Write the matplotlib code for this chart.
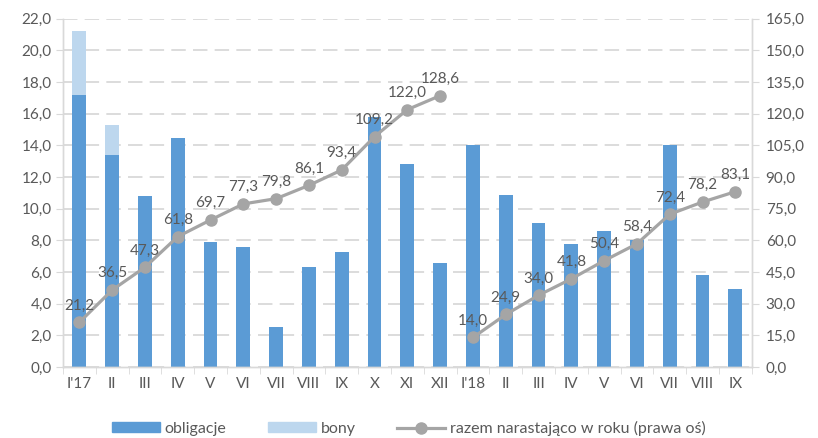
import matplotlib.pyplot as plt
import numpy as np
from matplotlib.lines import Line2D
from matplotlib.patches import Patch

plt.rcParams['font.family'] = ['Lato', 'DejaVu Sans']

months = ["I'17", "II", "III", "IV", "V", "VI", "VII", "VIII", "IX", "X", "XI", "XII",
          "I'18", "II", "III", "IV", "V", "VI", "VII", "VIII", "IX"]
obligacje = [17.2, 13.4, 10.8, 14.5, 7.9, 7.6, 2.5, 6.3, 7.3, 15.8, 12.8, 6.6,
             14.0, 10.9, 9.1, 7.8, 8.6, 8.0, 14.0, 5.8, 4.9]
bony = [4.0, 1.9, 0, 0, 0, 0, 0, 0, 0, 0, 0, 0,
        0, 0, 0, 0, 0, 0, 0, 0, 0]
razem_2017 = [21.2, 36.5, 47.3, 61.8, 69.7, 77.3, 79.8, 86.1, 93.4, 109.2, 122.0, 128.6]
razem_2018 = [14.0, 24.9, 34.0, 41.8, 50.4, 58.4, 72.4, 78.2, 83.1]

c_obl = '#5B9BD5'
c_bony = '#BDD7EE'
c_line = '#A5A5A5'
c_text = '#595959'
c_grid = '#D9D9D9'
fs = 11

def fmt(v):
    return ('%.1f' % v).replace('.', ',')

fig = plt.figure(figsize=(8.18, 4.38), dpi=100)
ax = fig.add_axes([0.077, 0.162, 0.842, 0.795])
ax2 = ax.twinx()

x = np.arange(len(months))
ax.bar(x, obligacje, width=0.42, color=c_obl, zorder=2)
ax.bar(x, bony, width=0.42, bottom=obligacje, color=c_bony, zorder=2)

ax.set_xlim(-0.5, len(months) - 0.5)
ax.set_ylim(0, 22)
ax.set_yticks(np.arange(0, 22.1, 2))
ax.set_yticklabels([fmt(v) for v in np.arange(0, 22.1, 2)])
ax.yaxis.grid(True, color=c_grid, linestyle=(0, (8, 4)), linewidth=1.3, zorder=0)
ax.set_axisbelow(True)

ax.set_xticks(x)
ax.set_xticklabels(months)
ax.set_xticks(np.arange(-0.5, len(months), 1), minor=True)
ax.tick_params(axis='x', which='major', length=0, pad=7, labelsize=fs, labelcolor=c_text)
ax.tick_params(axis='x', which='minor', length=5, color=c_grid, direction='out')
ax.tick_params(axis='y', length=5, color=c_grid, labelsize=fs, labelcolor=c_text, pad=3)

x1 = x[:len(razem_2017)]
x2 = x[len(razem_2017):]
for xs, ys in [(x1, razem_2017), (x2, razem_2018)]:
    ax2.plot(xs, ys, color=c_line, linewidth=2.3, marker='o', markersize=8, zorder=3)
    for a, b in zip(xs, ys):
        ax2.annotate(fmt(b), (a, b), xytext=(0, 7), textcoords='offset points',
                     ha='center', va='bottom', fontsize=fs, color=c_text)

ax2.set_ylim(0, 165)
ax2.set_yticks(np.arange(0, 165.1, 15))
ax2.set_yticklabels([fmt(v) for v in np.arange(0, 165.1, 15)])
ax2.tick_params(axis='y', length=5, color=c_grid, labelsize=fs, labelcolor=c_text, pad=5)

for a in (ax, ax2):
    a.spines['top'].set_visible(False)
    for s in ('left', 'right', 'bottom'):
        a.spines[s].set_color(c_grid)
        a.spines[s].set_linewidth(1)

handles = [Patch(color=c_obl), Patch(color=c_bony),
           Line2D([0], [0], color=c_line, linewidth=2.3, marker='o', markersize=8)]
labels = ['obligacje', 'bony', 'razem narastająco w roku (prawa oś)']
fig.legend(handles, labels, loc='center', bbox_to_anchor=(0.5, 0.022), ncol=3,
           frameon=False, fontsize=11.5, labelcolor=c_text, handlelength=3.0,
           handleheight=0.55, columnspacing=2.6, handletextpad=0.3)

fig.savefig('out.png', dpi=100)
